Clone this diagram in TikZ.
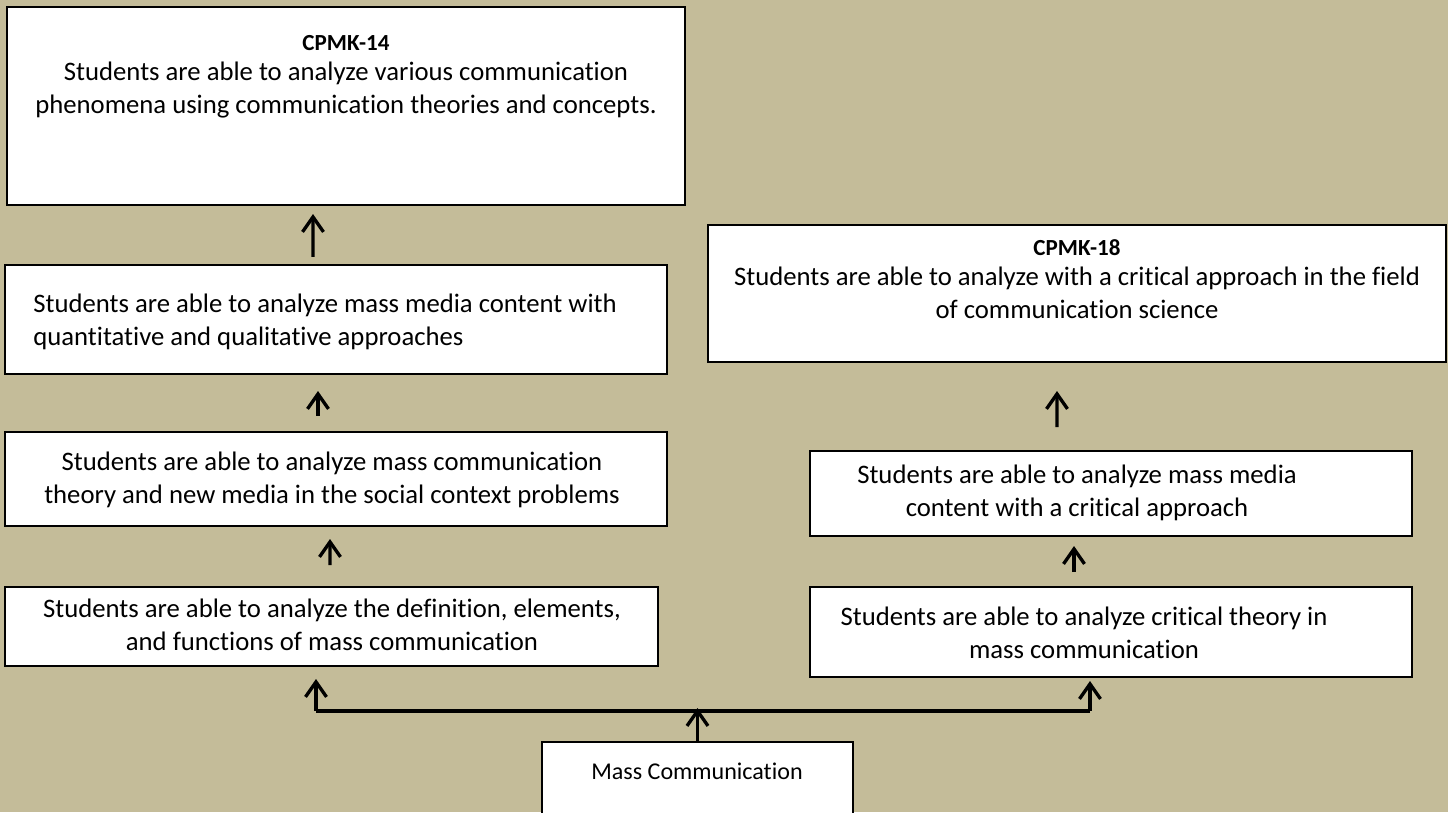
\documentclass[tikz,border=0pt]{standalone}
\usepackage{fontspec}
\setmainfont{Carlito}[Ligatures={NoCommon}]
\usetikzlibrary{positioning,arrows.meta,fit}
\definecolor{khaki}{RGB}{196,188,153}
\tikzset{
  box/.style={draw=black,fill=white,line width=1.15pt,inner sep=0pt},
  txt/.style={align=center,font=\fontsize{15.2}{19}\selectfont,inner sep=0pt},
  arr/.style={-{Straight Barb[length=3mm,width=4.2mm]},line width=1.9pt},
  trunk/.style={line width=1.9pt,line join=miter},
}
\newcommand{\cpmk}[1]{{\fontsize{13.1}{15}\selectfont\bfseries #1}}

\begin{document}
\begin{tikzpicture}[x=0.02cm,y=-0.02cm]
  \clip (0,0) rectangle (1448,812);
  \fill[khaki] (0,0) rectangle (1448,812);
  % left column: CPMK-14 and its three steps
  \node[box,fit={(7,7) (685,205)}] (b1) {};
  \node[txt] (t1) at (346,77) {\cpmk{CPMK-14}\\[-2pt] Students are able to analyze various communication\\ phenomena using communication theories and concepts.};
  \node[box,fit={(5,265) (667,374)}] (b2) {};
  \node[txt,align=left,anchor=west] (t2) at (33,322) {Students are able to analyze mass media content with\\ quantitative and qualitative approaches};
  \node[box,fit={(5,432) (667,526)}] (b3) {};
  \node[txt] (t3) at (332,480) {Students are able to analyze mass communication\\ theory and new media in the social context problems};
  \node[box,fit={(5,587) (658,666)}] (b4) {};
  \node[txt] (t4) at (332,625) {Students are able to analyze the definition, elements,\\ and functions of mass communication};
  % right column: CPMK-18 and its two steps
  \node[box,fit={(708,225) (1446,362)}] (b5) {};
  \node[txt] (t5) at (1077,279) {\cpmk{CPMK-18}\\[-2pt] Students are able to analyze with a critical approach in the field\\ of communication science};
  \node[box,fit={(810,451) (1412,536)}] (b6) {};
  \node[txt] (t6) at (1077,493) {Students are able to analyze mass media\\ content with a critical approach};
  \node[box,fit={(810,587) (1412,677)}] (b7) {};
  \node[txt] (t7) at (1084,633) {Students are able to analyze critical theory in\\ mass communication};
  % root course
  \node[box,fit={(542,742) (853,830)}] (b8) {};
  \node[txt,font=\fontsize{13.7}{16}\selectfont] (t8) at (697,771) {Mass Communication};
  % step arrows
  \draw[arr,shorten <=0.14cm,shorten >=0.16cm] ([xshift=-0.46cm]b2.north) -- ([xshift=-0.66cm]b1.south);
  \draw[arr,shorten <=0.30cm,shorten >=0.32cm] ([xshift=-0.36cm]b3.north) -- ([xshift=-0.36cm]b2.south);
  \draw[arr,shorten <=0.42cm,shorten >=0.24cm] ([xshift=-0.03cm]b4.north) -- ([xshift=-0.12cm]b3.south);
  \draw[arr,shorten <=0.46cm,shorten >=0.56cm] ([xshift=-1.08cm]b6.north) -- ([xshift=-0.40cm]b5.south);
  \draw[arr,shorten <=0.28cm,shorten >=0.18cm] ([xshift=-0.74cm]b7.north) -- ([xshift=-0.74cm]b6.south);
  % branching from the course
  \coordinate (jl) at (316,711);
  \coordinate (jr) at (1090,711);
  \draw[trunk] (jl) -- (jr);
  \draw[arr,shorten >=-0.06cm] (b8.north) -- (b8.north |- jl);
  \draw[arr,shorten >=0.24cm] (jl) -- (jl |- b4.south);
  \draw[arr,shorten >=0.06cm] (jr) -- (jr |- b7.south);
\end{tikzpicture}
\end{document}
